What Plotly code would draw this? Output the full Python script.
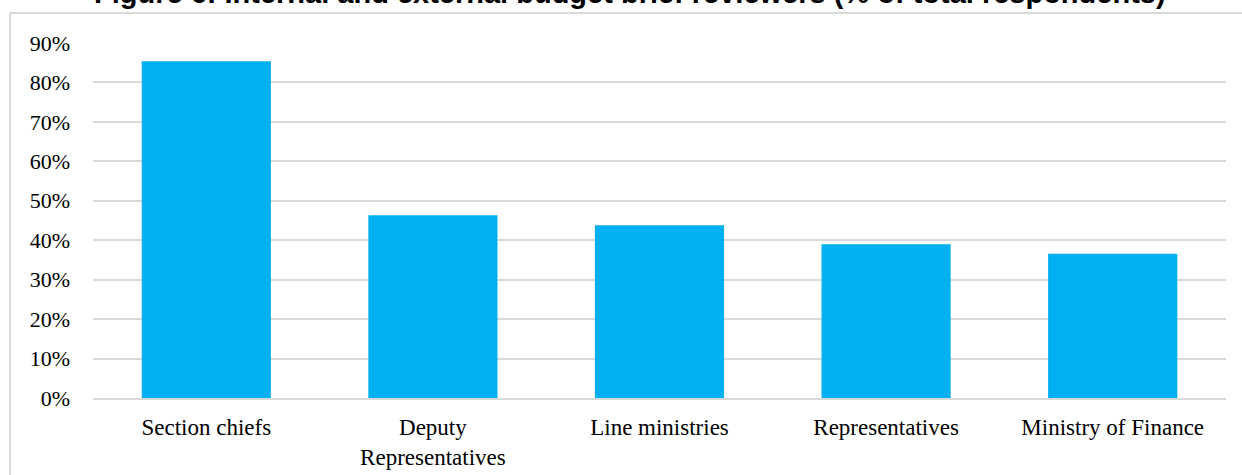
import plotly.graph_objects as go

# Share of respondents naming each reviewer of the budget brief
categories = ["Section chiefs", "Deputy<br>Representatives", "Line ministries",
              "Representatives", "Ministry of Finance"]
shares = [0.854, 0.463, 0.438, 0.390, 0.366]
tick_vals = [0, 0.1, 0.2, 0.3, 0.4, 0.5, 0.6, 0.7, 0.8, 0.9]
tick_text = ["0%", "10%", "20%", "30%", "40%", "50%", "60%", "70%", "80%", "90%"]
title_text = "Figure 6: Internal and external budget brief reviewers (% of total respondents)"

W, H = 1242, 475
ML, MR, MT, MB = 93, 16, 43, 77
pw, ph = W - ML - MR, H - MT - MB


def px_x(p):
    return (p - ML) / pw


def px_y(p):
    return (H - MB - p) / ph


fig = go.Figure(go.Bar(
    x=categories, y=shares,
    marker=dict(color="#00B0F0", line=dict(width=0)),
    width=0.57,
))

serif = "Liberation Serif, Times New Roman, serif"

fig.update_layout(
    width=W, height=H,
    margin=dict(l=ML, r=MR, t=MT, b=MB, pad=0, autoexpand=False),
    paper_bgcolor="white", plot_bgcolor="white",
    showlegend=False,
    font=dict(family=serif, size=22, color="#000000"),
    xaxis=dict(
        automargin=False,
        showgrid=False, showline=True, linecolor="#d9d9d9", linewidth=1.5,
        ticks="", tickfont=dict(family=serif, size=23, color="#000000"),
        ticklabelstandoff=8,
    ),
    yaxis=dict(
        automargin=False,
        range=[0, 0.9], tickvals=tick_vals, ticktext=tick_text,
        showgrid=True, gridcolor="#d9d9d9", gridwidth=1.5,
        zeroline=False, showline=False, ticks="",
        tickfont=dict(family=serif, size=22, color="#000000"),
        ticklabelstandoff=22,
    ),
    shapes=[
        # outer chart frame (left and top edges fall inside the page)
        dict(type="line", xref="paper", yref="paper",
             x0=px_x(10), x1=px_x(10), y0=px_y(13), y1=px_y(480),
             line=dict(color="#d9d9d9", width=2)),
        dict(type="line", xref="paper", yref="paper",
             x0=px_x(10), x1=px_x(1250), y0=px_y(13), y1=px_y(13),
             line=dict(color="#d9d9d9", width=2)),
    ],
    annotations=[
        dict(text="<b>" + title_text + "</b>", xref="paper", yref="paper",
             x=px_x(630), y=px_y(-7), xanchor="center", yanchor="middle",
             showarrow=False,
             font=dict(family="Liberation Sans, Arial, sans-serif", size=29,
                       color="#000000")),
    ],
)

fig.write_html("out.html")
